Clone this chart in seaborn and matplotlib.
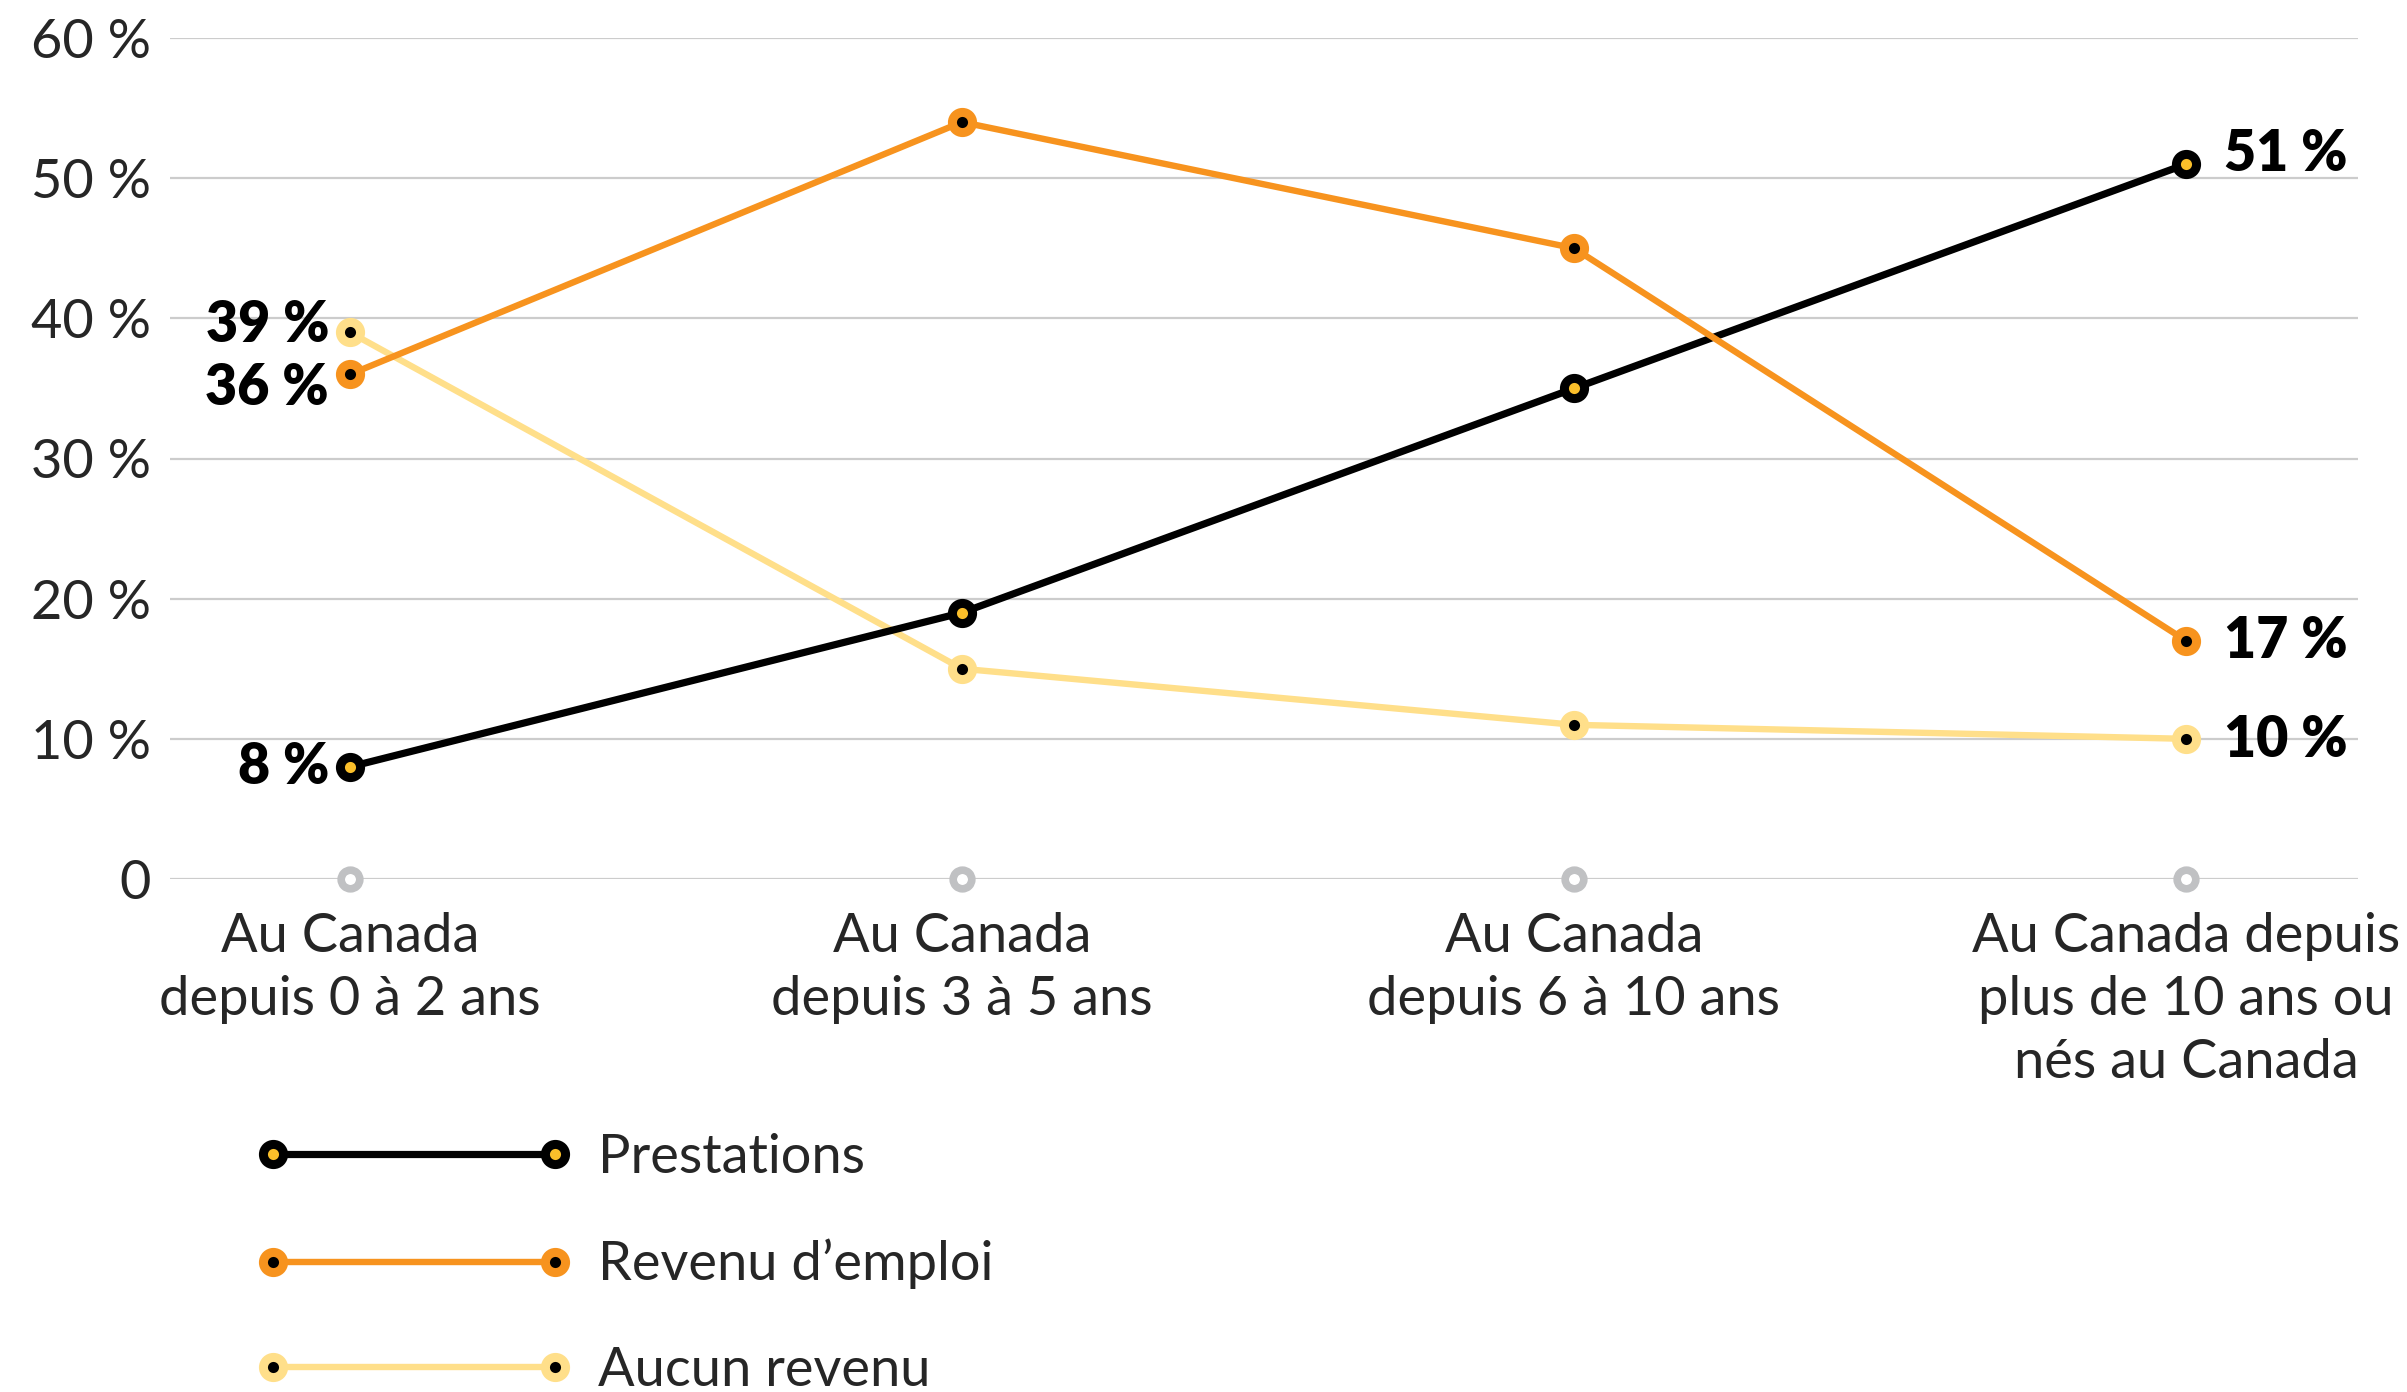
import matplotlib
matplotlib.use("Agg")
import matplotlib.pyplot as plt
import seaborn as sns
import pandas as pd

# Data
categories = [
    "Au Canada\ndepuis 0 à 2 ans",
    "Au Canada\ndepuis 3 à 5 ans",
    "Au Canada\ndepuis 6 à 10 ans",
    "Au Canada depuis\nplus de 10 ans ou\nnés au Canada",
]
prestations = [8, 19, 35, 51]
revenu_emploi = [36, 54, 45, 17]
aucun_revenu = [39, 15, 11, 10]
series_names = ["Prestations", "Revenu d\u2019emploi", "Aucun revenu"]
y_ticks = [0, 10, 20, 30, 40, 50, 60]
y_tick_labels = ["0", "10 %", "20 %", "30 %", "40 %", "50 %", "60 %"]

sns.set_theme(style="white")
plt.rcParams["font.family"] = ["Lato", "DejaVu Sans"]

W, H, DPI = 2407, 1392, 100
fig = plt.figure(figsize=(W / DPI, H / DPI), dpi=DPI)
ax = fig.add_axes([170 / W, 1 - 879 / H, (2358 - 170) / W, (879 - 38) / H])

pos = list(range(len(categories)))
df = pd.DataFrame({"pos": pos,
                   series_names[0]: prestations,
                   series_names[1]: revenu_emploi,
                   series_names[2]: aucun_revenu})

styles = {
    series_names[0]: dict(color="#000000", mfc="#FBBF2A", mec="#000000", z=4, lw=5.2),
    series_names[1]: dict(color="#F7931E", mfc="#000000", mec="#F7931E", z=5, lw=4.6),
    series_names[2]: dict(color="#FFDF8A", mfc="#000000", mec="#FFDF8A", z=3, lw=4.6),
}

fs = 39
MS = 14.5
MEW = 6.5

handles = {}
for name in [series_names[2], series_names[0], series_names[1]]:
    st = styles[name]
    sns.lineplot(data=df, x="pos", y=name, ax=ax, color=st["color"],
                 linewidth=st["lw"], marker="o", markersize=MS,
                 markerfacecolor=st["mfc"], markeredgecolor=st["mec"],
                 markeredgewidth=MEW, zorder=st["z"], clip_on=False,
                 label=name, legend=False)
    handles[name] = ax.get_lines()[-1]

# Ring markers on the baseline at each category
sns.scatterplot(x=pos, y=[0] * len(pos), ax=ax, s=180, color="white",
                edgecolor="#C0C1C3", linewidth=5.5, zorder=3, clip_on=False,
                legend=False)

ax.set_xlim(-0.294, 3.281)
ax.set_ylim(0, 60)
ax.set_yticks(y_ticks)
ax.set_yticklabels(y_tick_labels, fontsize=fs)
ax.set_xticks(pos)
ax.set_xticklabels(categories, fontsize=fs, linespacing=1.35)
ax.tick_params(axis="y", length=0, pad=14)
ax.tick_params(axis="x", length=0, pad=24)
ax.set_xlabel("")
ax.set_ylabel("")
ax.grid(axis="y", color="#CCCCCC", linewidth=1.6)
ax.set_axisbelow(True)
for sp in ax.spines.values():
    sp.set_visible(False)

# Value labels at both ends
lab_kw = dict(fontsize=40, fontweight="heavy", color="black", va="center")
left_offsets = {series_names[0]: 0, series_names[1]: -10, series_names[2]: 5}
right_offsets = {series_names[0]: 7, series_names[1]: 0, series_names[2]: -1}
for name, vals in zip(series_names, [prestations, revenu_emploi, aucun_revenu]):
    ax.annotate(f"{vals[0]} %", (pos[0], vals[0]), xytext=(-15, left_offsets[name]),
                textcoords="offset points", ha="right", **lab_kw)
    ax.annotate(f"{vals[-1]} %", (pos[-1], vals[-1]), xytext=(27, right_offsets[name]),
                textcoords="offset points", ha="left", **lab_kw)

leg = fig.legend([handles[n] for n in series_names], series_names,
                 loc="upper left", bbox_to_anchor=(257 / W, 1 - 1133 / H),
                 frameon=False, fontsize=fs, numpoints=2,
                 handlelength=5.8, handletextpad=0.5, labelspacing=1.05,
                 borderpad=0, borderaxespad=0)

fig.savefig("out.png", dpi=DPI, facecolor="white")
